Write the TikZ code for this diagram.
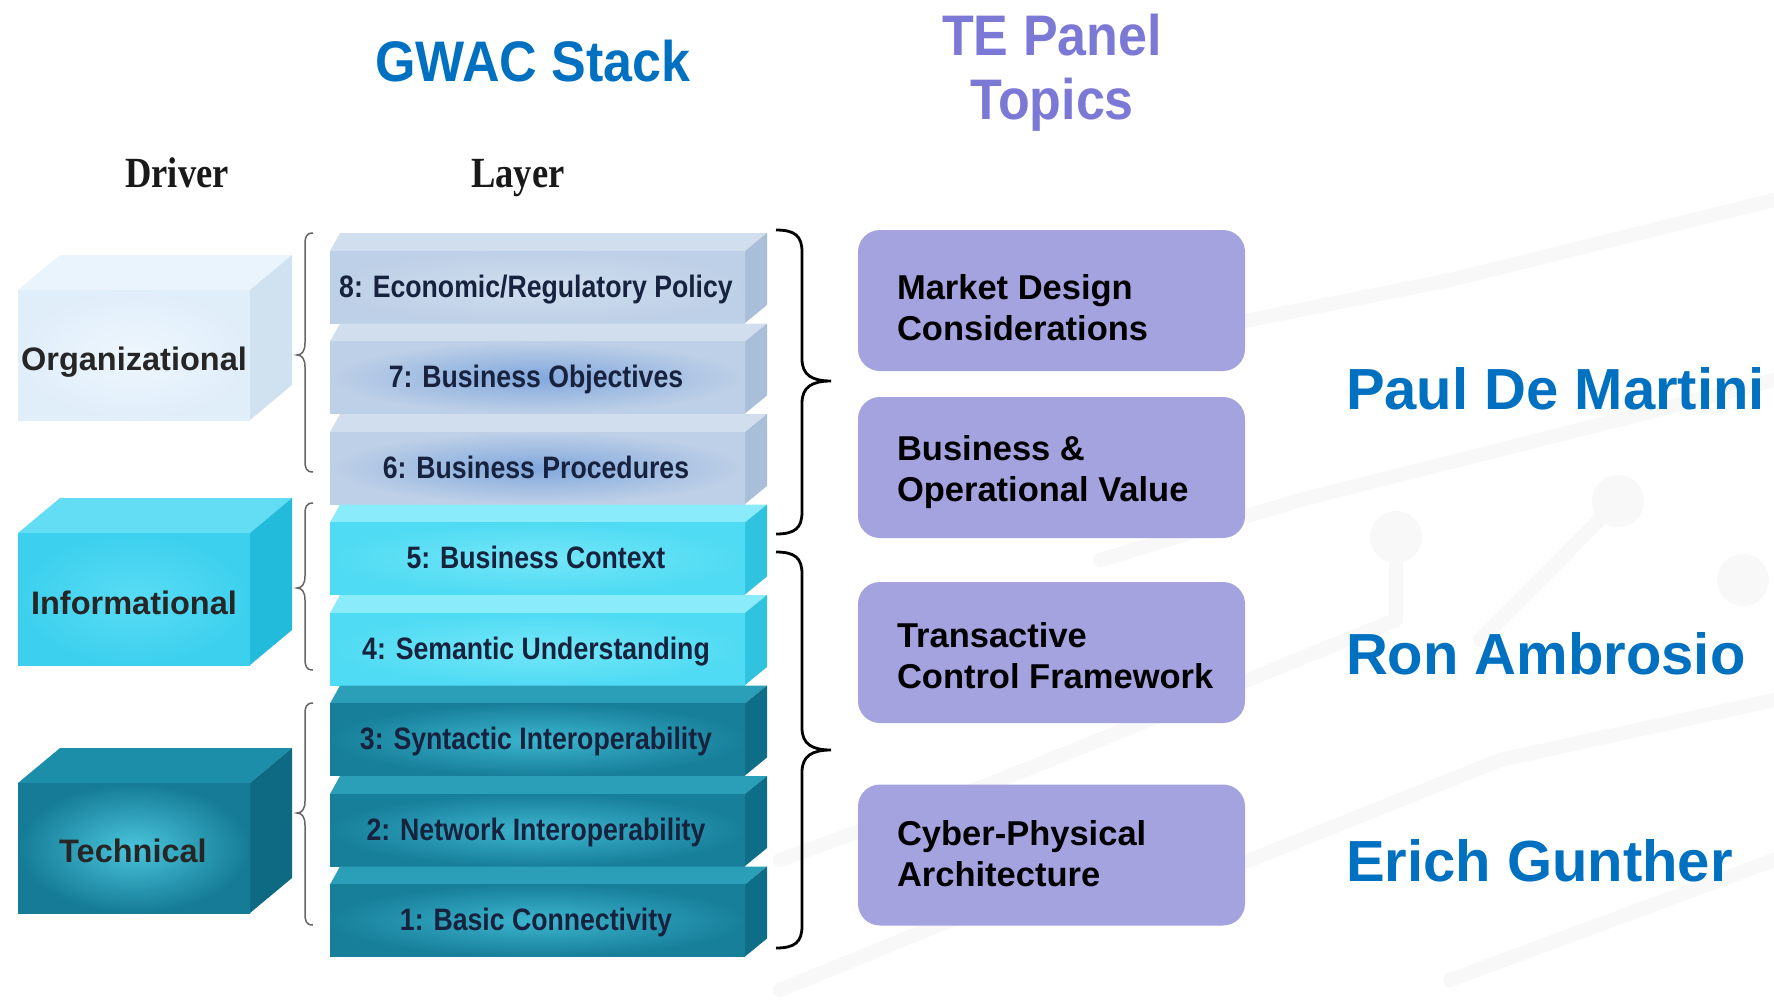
\documentclass[tikz,border=0pt]{standalone}
\usepackage{fontspec}
\setmainfont{Liberation Sans}
\newfontfamily\serifb{Liberation Serif}
\definecolor{gwacblue}{RGB}{0,112,192}
\definecolor{tepurple}{RGB}{123,120,214}
\definecolor{boxpurple}{RGB}{164,162,223}
\definecolor{layertext}{RGB}{22,34,62}
\definecolor{faint}{RGB}{248,248,248}
% layer colours
\definecolor{stTop}{RGB}{208,222,238}
\definecolor{stSide}{RGB}{169,191,217}
\definecolor{stOut}{RGB}{190,208,231}
\definecolor{stIn}{RGB}{130,168,220}
\definecolor{cyTop}{RGB}{138,235,250}
\definecolor{cySide}{RGB}{47,195,224}
\definecolor{cyOut}{RGB}{79,219,243}
\definecolor{cyIn}{RGB}{116,230,248}
\definecolor{tlTop}{RGB}{44,159,184}
\definecolor{tlSide}{RGB}{15,110,135}
\definecolor{tlOut}{RGB}{23,127,154}
\definecolor{tlIn}{RGB}{61,181,206}
% driver colours
\definecolor{orTop}{RGB}{234,244,252}
\definecolor{orSide}{RGB}{208,225,240}
\definecolor{orOut}{RGB}{224,238,250}
\definecolor{orIn}{RGB}{238,246,253}
\definecolor{inTop}{RGB}{98,221,243}
\definecolor{inSide}{RGB}{34,187,219}
\definecolor{inOut}{RGB}{60,208,238}
\definecolor{inIn}{RGB}{90,220,244}
\definecolor{tcTop}{RGB}{28,142,169}
\definecolor{tcSide}{RGB}{14,106,130}
\definecolor{tcOut}{RGB}{21,123,150}
\definecolor{tcIn}{RGB}{74,197,220}

\tikzset{
  txt/.style={inner sep=0pt, outer sep=0pt},
  layertxt/.style={txt, anchor=base, font=\bfseries\fontsize{31}{36}\selectfont},
  drivertxt/.style={txt, anchor=base, text=black!85, font=\bfseries\fontsize{32.5}{38}\selectfont},
  pbox/.style={fill=boxpurple, rounded corners=22pt, minimum width=387pt, minimum height=141pt, inner sep=0pt},
  ptext/.style={txt, anchor=north west, align=left, text=black, font=\bfseries\fontsize{34.5}{41.5}\selectfont},
  nametxt/.style={txt, anchor=base west, text=gwacblue, font=\bfseries\fontsize{58}{66}\selectfont},
  lbr/.style={draw=black!60, line width=1.5pt},
  rbr/.style={draw=black, line width=2.8pt},
  bgline/.style={draw=faint, line width=14pt, line cap=round, line join=round},
}

\newcommand\gwLayer[8]{% y0, top, side, outer, inner, name, text, textcolour
  \fill[#2] (330,#1+18) -- (340,#1) -- (767,#1) -- (745,#1+18) -- cycle;
  \fill[#3] (745,#1+18) -- (767,#1) -- (767,#1+72) -- (745,#1+90) -- cycle;
  \shade[outer color=#4, inner color=#5] (330,#1+18) rectangle (745,#1+90);
  \node[layertxt, text=#8] (#6) at (536,#1+64) {\scalebox{0.86}[1]{#7}};
}
\newcommand\gwDriver[7]{% top-of-top, front top, front bottom, top, side, outer, inner
  \fill[#4] (18,#2) -- (60,#1) -- (292,#1) -- (250,#2) -- cycle;
  \fill[#5] (250,#2) -- (292,#1) -- (292,#3-35) -- (250,#3) -- cycle;
  \shade[outer color=#6, inner color=#7] (18,#2) rectangle (250,#3);
}
\newcommand\gwLBrace[3]{%
  \draw[lbr] (313,#1) .. controls (306,#1) and (305,#1+4) .. (305,#1+12) -- (305,#2-12)
    .. controls (305,#2-4) and (302,#2) .. (297,#2)
    .. controls (302,#2) and (305,#2+4) .. (305,#2+12) -- (305,#3-12)
    .. controls (305,#3-4) and (306,#3) .. (313,#3);
}
\newcommand\gwRBrace[3]{%
  \draw[rbr] (776,#1) .. controls (795,#1) and (802,#1+6) .. (802,#1+22) -- (802,#2-22)
    .. controls (802,#2-6) and (812,#2) .. (831,#2)
    .. controls (812,#2) and (802,#2+6) .. (802,#2+22) -- (802,#3-22)
    .. controls (802,#3-6) and (795,#3) .. (776,#3);
}

\begin{document}
\begin{tikzpicture}[x=1pt,y=-1pt]
\useasboundingbox (0,0) rectangle (1774,999);
\fill[white] (0,0) rectangle (1774,999);

% faint circuit background
\draw[bgline] (780,990) -- (1000,900) -- (1250,860) -- (1500,760) -- (1774,700);
\draw[bgline] (780,860) -- (1000,780) -- (1396,620) -- (1396,537);
\draw[bgline] (1100,560) -- (1300,500) -- (1618,420) -- (1774,380);
\draw[bgline] (1200,330) -- (1450,280) -- (1774,200);
\draw[bgline] (1450,980) -- (1774,860);
\draw[bgline] (1618,501) -- (1560,560) -- (1480,640);
\fill[faint] (1396,537) circle (26);
\fill[faint] (1618,501) circle (26);
\fill[faint] (1743,580) circle (26);

% titles
\node[txt, anchor=base, text=gwacblue, font=\bfseries\fontsize{52}{60}\selectfont] (gwac) at (533,81) {\scalebox{1}[1.1]{GWAC Stack}};
\node[txt, anchor=north, align=center, text=tepurple, font=\bfseries\fontsize{52}{64}\selectfont] (te) at (1052,14) {\scalebox{1}[1.1]{TE Panel}\\\scalebox{1}[1.1]{Topics}};
\node[txt, anchor=base, text=black!90, font=\serifb\bfseries\fontsize{43}{48}\selectfont] (drv) at (177,187) {\scalebox{0.85}[1]{Driver}};
\node[txt, anchor=base, text=black!90, font=\serifb\bfseries\fontsize{43}{48}\selectfont] (lyr) at (518,187) {\scalebox{0.85}[1]{Layer}};

% layers
\gwLayer{233}{stTop}{stSide}{stOut}{stTop}{L8}{8: Economic/Regulatory Policy}{layertext}
\gwLayer{323.5}{stTop}{stSide}{stOut}{stIn}{L7}{7: Business Objectives}{layertext}
\gwLayer{414}{stTop}{stSide}{stOut}{stIn}{L6}{6: Business Procedures}{layertext}
\gwLayer{504.5}{cyTop}{cySide}{cyOut}{cyIn}{L5}{5: Business Context}{layertext}
\gwLayer{595}{cyTop}{cySide}{cyOut}{cyIn}{L4}{4: Semantic Understanding}{layertext}
\gwLayer{685.5}{tlTop}{tlSide}{tlOut}{tlIn}{L3}{3: Syntactic Interoperability}{layertext}
\gwLayer{776}{tlTop}{tlSide}{tlOut}{tlIn}{L2}{2: Network Interoperability}{layertext}
\gwLayer{866.5}{tlTop}{tlSide}{tlOut}{tlIn}{L1}{1: Basic Connectivity}{layertext}

% drivers
\gwDriver{255}{290}{420}{orTop}{orSide}{orOut}{orIn}
\node[drivertxt] (org) at (134,370) {Organizational};
\gwDriver{498}{533}{665}{inTop}{inSide}{inOut}{inIn}
\node[drivertxt] (inf) at (134,614) {Informational};
\gwDriver{748}{783}{913}{tcTop}{tcSide}{tcOut}{tcIn}
\node[drivertxt] (tec) at (133,862) {Technical};

% left braces
\gwLBrace{233}{355}{472}
\gwLBrace{503}{588}{670}
\gwLBrace{703}{813}{925}

% right braces
\gwRBrace{230}{381}{534}
\gwRBrace{552}{750}{948}

% topic boxes
\node[pbox] (b1) at (1051.5,300.5) {};
\node[ptext] (b1t) at (897,274) {Market Design\\Considerations};
\node[pbox] (b2) at (1051.5,467.5) {};
\node[ptext] (b2t) at (897,435) {Business \&\\Operational Value};
\node[pbox] (b3) at (1051.5,652.5) {};
\node[ptext] (b3t) at (897,622) {Transactive\\Control Framework};
\node[pbox] (b4) at (1051.5,855) {};
\node[ptext] (b4t) at (897,820) {Cyber-Physical\\Architecture};

% names
\node[nametxt] (paul) at (1346,409) {Paul De Martini};
\node[nametxt] (ron) at (1346,674) {Ron Ambrosio};
\node[nametxt] (erich) at (1346,881) {Erich Gunther};
\end{tikzpicture}
\end{document}
